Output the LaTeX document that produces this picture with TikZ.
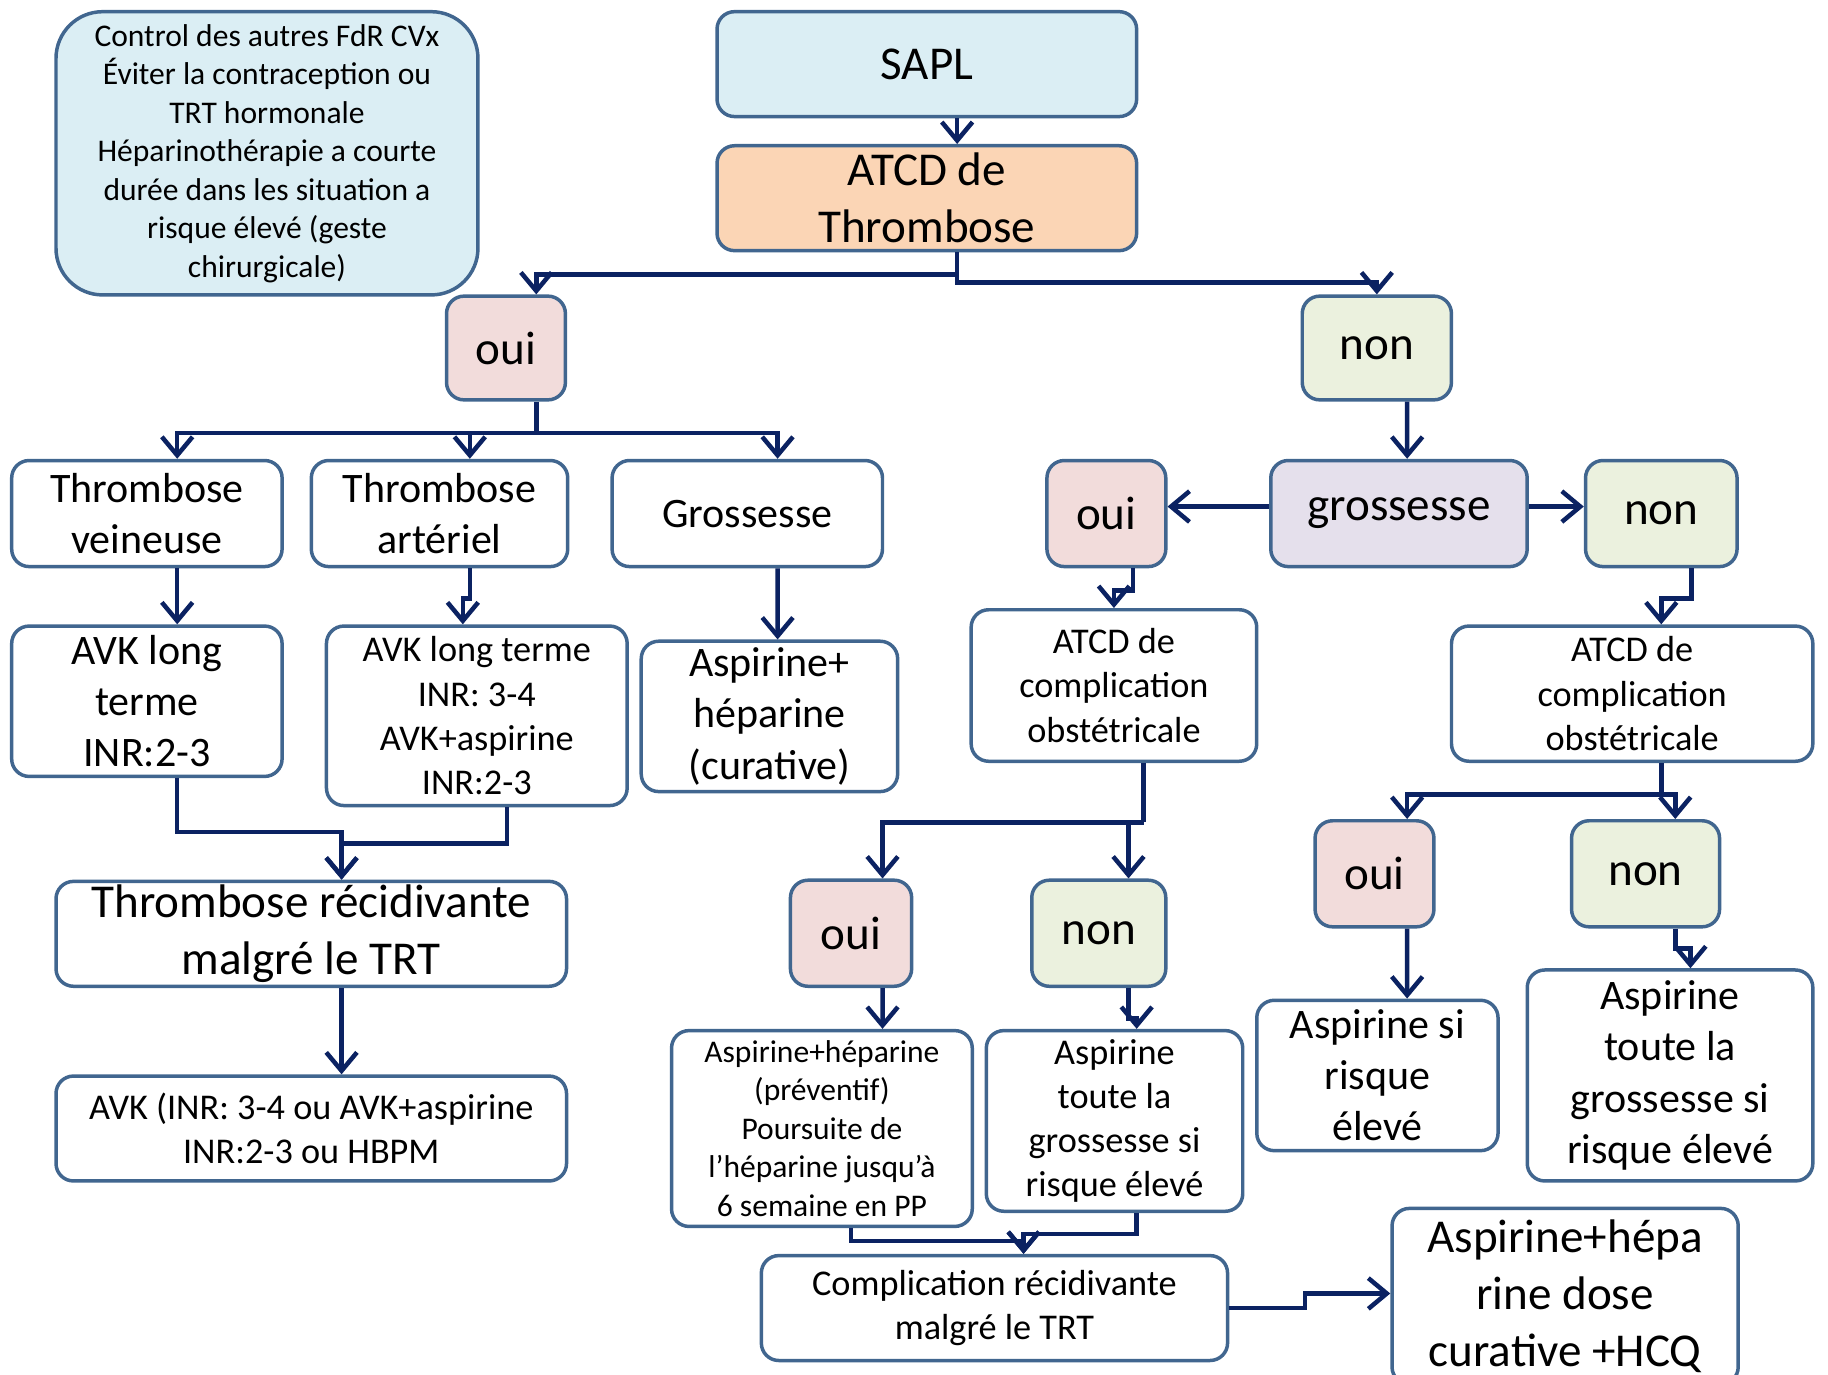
\documentclass[tikz,border=0pt]{standalone}
\usepackage{fontspec}
\setmainfont{Carlito}
\usetikzlibrary{arrows.meta,positioning}
\definecolor{bordercol}{HTML}{41668F}
\definecolor{linkcol}{HTML}{0B2262}
\definecolor{bluefill}{HTML}{DBEEF4}
\definecolor{peachfill}{HTML}{FBD5B5}
\definecolor{ouifill}{HTML}{F2DCDB}
\definecolor{nonfill}{HTML}{EBF1DE}
\definecolor{lilacfill}{HTML}{E5E0EC}
\newcommand{\txtS}{\fontsize{15.4}{18.8}\selectfont}
\newcommand{\txtM}{\fontsize{17.7}{21.6}\selectfont}
\newcommand{\txtL}{\fontsize{20.5}{25}\selectfont}
\newcommand{\txtXL}{\fontsize{23}{27.9}\selectfont}
\tikzstyle{rbox} = [draw=bordercol, line width=1.7pt, fill=white, rounded corners=0.3cm, align=center, inner sep=0pt, font=\txtL]
\tikzstyle{ouibox} = [rbox, fill=ouifill, font=\txtXL]
\tikzstyle{nonbox} = [rbox, fill=nonfill, font=\txtXL]
\tikzstyle{arrow} = [draw, line width=2.2pt, color=linkcol, -{Straight Barb[length=9pt,width=15pt]}]
\tikzstyle{line} = [draw, line width=2.2pt, color=linkcol]
\newcommand{\flowblock}[5]{node (#1) [#2, minimum width=#3cm, minimum height=#4cm] {#5}}

\begin{document}
\begin{tikzpicture}[x=0.02cm,y=-0.02cm]
\useasboundingbox (0,0) rectangle (1568,1179);

% top
\path (229,131.5) \flowblock{note}{rbox, fill=bluefill, rounded corners=0.8cm, font=\txtS}{7.24}{4.86}{Control des autres FdR CVx\\Éviter la contraception ou\\TRT hormonale\\Héparinothérapie a courte\\durée dans les situation a\\risque élevé (geste\\chirurgicale)};
\path (795,55) \flowblock{sapl}{rbox, fill=bluefill, font=\txtXL}{7.2}{1.8}{SAPL};
\path (795,170) \flowblock{atcd}{rbox, fill=peachfill, font=\txtXL}{7.2}{1.8}{ATCD de\\Thrombose};
\path (434,298.5) \flowblock{oui1}{ouibox}{2.04}{1.78}{oui};
\path (1181,298.5) \flowblock{non1}{nonbox}{2.56}{1.78}{non};

% branche oui
\path (126,440.5) \flowblock{tv}{rbox}{4.64}{1.82}{Thrombose\\veineuse};
\path (377,440.5) \flowblock{ta}{rbox}{4.4}{1.82}{Thrombose\\artériel};
\path (641,440.5) \flowblock{gl}{rbox}{4.64}{1.82}{Grossesse};
\path (126,601.5) \flowblock{avk1}{rbox}{4.64}{2.58}{AVK long\\terme\\INR:2-3};
\path (409,614) \flowblock{avk2}{rbox, font=\txtM}{5.16}{3.08}{AVK long terme\\INR: 3-4\\AVK+aspirine\\INR:2-3};
\path (660,614.5) \flowblock{asph}{rbox}{4.4}{2.58}{Aspirine+\\héparine\\(curative)};
\path (267,801) \flowblock{trec}{rbox, font=\txtXL}{8.76}{1.8}{Thrombose récidivante\\malgré le TRT};
\path (267,968) \flowblock{avk3}{rbox, font=\txtM}{8.76}{1.8}{AVK (INR: 3-4 ou AVK+aspirine\\INR:2-3 ou HBPM};

% branche non
\path (949,440.5) \flowblock{oui2}{ouibox}{2.04}{1.82}{oui};
\path (1200,440.5) \flowblock{gros}{rbox, fill=lilacfill, font=\txtXL}{4.4}{1.82}{grossesse};
\path (1425,440.5) \flowblock{non2}{nonbox}{2.6}{1.82}{non};
\path (955.5,588) \flowblock{acm}{rbox, font=\txtM}{4.9}{2.6}{ATCD de\\complication\\obstétricale};
\path (1400,595) \flowblock{acr}{rbox, font=\txtM}{6.2}{2.32}{ATCD de\\complication\\obstétricale};
\path (730,800.5) \flowblock{oui3}{ouibox}{2.08}{1.82}{oui};
\path (942.5,800.5) \flowblock{non3}{nonbox}{2.3}{1.82}{non};
\path (1179,749.5) \flowblock{oui4}{ouibox}{2.04}{1.82}{oui};
\path (1411.5,749.5) \flowblock{non4}{nonbox}{2.54}{1.82}{non};
\path (705,968) \flowblock{aph}{rbox, font=\txtS}{5.16}{3.36}{Aspirine+héparine\\(préventif)\\Poursuite de\\l’héparine jusqu’à\\6 semaine en PP};
\path (956,961.5) \flowblock{atm}{rbox, font=\txtM}{4.4}{3.1}{Aspirine\\toute la\\grossesse si\\risque élevé};
\path (1181.5,922.5) \flowblock{asr}{rbox}{4.14}{2.58}{Aspirine si\\risque\\élevé};
\path (1432.5,922.5) \flowblock{atr}{rbox}{4.9}{3.62}{Aspirine\\toute la\\grossesse si\\risque élevé};
\path (853,1122) \flowblock{crec}{rbox, font=\txtM}{8.0}{1.8}{Complication récidivante\\malgré le TRT};
\path (1342.5,1112) \flowblock{ahcq}{rbox, font=\txtXL}{5.94}{3.02}{Aspirine+hépa\\rine dose\\curative +HCQ};

% liens
\path [arrow] ([xshift=0.52cm]sapl.south) -- ([xshift=0.52cm]atcd.north);
\path [arrow] ([xshift=0.52cm]atcd.south) -- ++(0,19) -| ([xshift=0.52cm]oui1.north);
\path [arrow] ([xshift=0.52cm]atcd.south) -- ++(0,26) -| (non1.north);
\path [line] ([xshift=0.52cm]oui1.south) -- ++(0,27) coordinate (j1);
\path [arrow] (j1) -| ([xshift=0.52cm]tv.north);
\path [arrow] (j1) -| ([xshift=0.52cm]ta.north);
\path [arrow] (j1) -| ([xshift=0.52cm]gl.north);
\path [arrow] ([xshift=0.52cm]tv.south) -- ([xshift=0.52cm]avk1.north);
\path [arrow] ([xshift=0.52cm]ta.south) -- ++(0,26) -| ([xshift=-0.24cm]avk2.north);
\path [arrow] ([xshift=0.52cm]gl.south) -- ([xshift=0.14cm]asph.north);
\path [arrow] ([xshift=0.52cm]avk1.south) -- ++(0,46) -| ([xshift=0.52cm]trec.north);
\path [arrow] ([xshift=0.52cm]avk2.south) -- ++(0,31) -| ([xshift=0.52cm]trec.north);
\path [arrow] ([xshift=0.52cm]trec.south) -- ([xshift=0.52cm]avk3.north);

\path [arrow] ([xshift=0.52cm]non1.south) -- ([xshift=0.14cm]gros.north);
\path [arrow] ([yshift=0.12cm]gros.west) -- ([yshift=0.12cm]oui2.east);
\path [arrow] ([yshift=0.12cm]gros.east) -- ([yshift=0.12cm]non2.west);
\path [arrow] ([xshift=0.46cm]oui2.south) -- ++(0,19) -| (acm.north);
\path [arrow] ([xshift=0.52cm]non2.south) -- ++(0,26) -| ([xshift=0.5cm]acr.north);
\path [line] ([xshift=0.51cm]acm.south) -- ++(0,51) coordinate (j2);
\path [arrow] (j2) -| ([xshift=0.54cm]oui3.north);
\path [arrow] (j2) -| ([xshift=0.51cm]non3.north);
\path [line] ([xshift=0.5cm]acr.south) -- ++(0,27) coordinate (j3);
\path [arrow] (j3) -| ([xshift=0.56cm]oui4.north);
\path [arrow] (j3) -| ([xshift=0.51cm]non4.north);
\path [arrow] ([xshift=0.54cm]oui3.south) -- ([xshift=1.04cm]aph.north);
\path [arrow] ([xshift=0.51cm]non3.south) -- ++(0,26) -| ([xshift=0.38cm]atm.north);
\path [arrow] ([xshift=0.56cm]oui4.south) -- ([xshift=0.51cm]asr.north);
\path [arrow] ([xshift=0.51cm]non4.south) -- ++(0,17) -| ([xshift=0.35cm]atr.north);
\path [arrow] ([xshift=0.5cm]aph.south) -- ++(0,11) -| ([xshift=0.5cm]crec.north);
\path [arrow] ([xshift=0.38cm]atm.south) -- ++(0,18) -| ([xshift=0.5cm]crec.north);
\path [arrow] (crec.east) -- ++(65,0) |- ([yshift=0.05cm]ahcq.west);
\end{tikzpicture}
\end{document}
